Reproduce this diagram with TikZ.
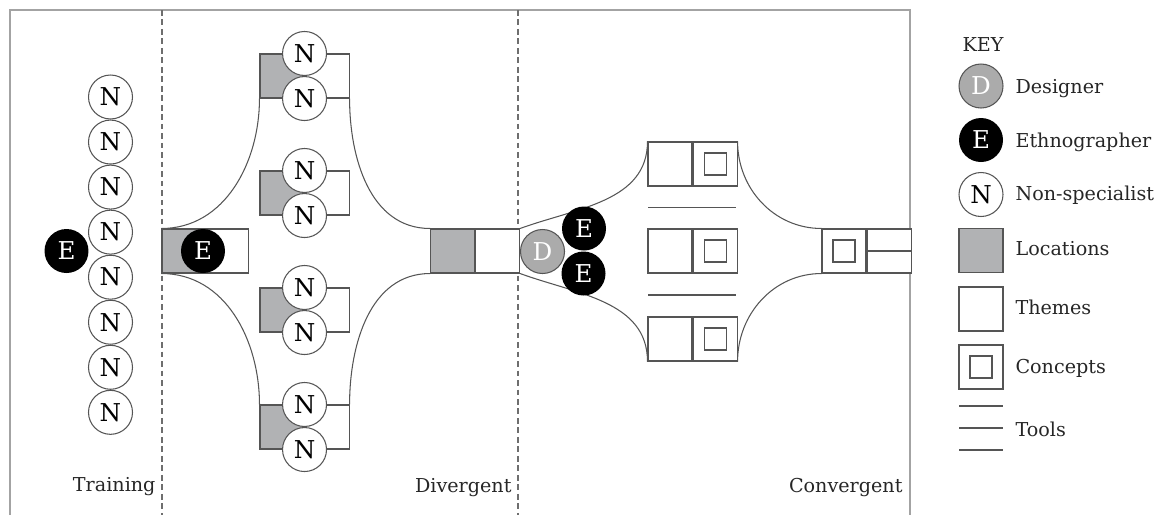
\documentclass[tikz,border=0pt]{standalone}
\usepackage{fontspec}
\setmainfont{DejaVu Serif}
\usetikzlibrary{positioning}
\definecolor{edge}{HTML}{555555}
\definecolor{frame}{HTML}{A3A3A3}
\definecolor{locgray}{HTML}{B1B2B4}
\definecolor{desgray}{HTML}{ABABAB}

\begin{document}
\begin{tikzpicture}[
  x=0.02cm,y=-0.02cm,
  line width=0.6pt,
  person/.style={circle,minimum size=0.88cm,inner sep=0pt,
                 font=\fontsize{14}{14}\selectfont},
  nsp/.style={person,draw=edge,fill=white,text=black},
  eth/.style={person,fill=black,text=white},
  des/.style={person,draw=edge,fill=desgray,text=white},
  loc/.style={draw=edge,fill=locgray,minimum size=0.88cm,inner sep=0pt},
  thm/.style={draw=edge,fill=white,minimum size=0.88cm,inner sep=0pt},
  cpt/.style={thm,path picture={
      \draw[edge] ([shift={(-0.22cm,-0.22cm)}]path picture bounding box.center)
        rectangle ([shift={(0.22cm,0.22cm)}]path picture bounding box.center);}},
  flow/.style={draw=edge},
  tool/.style={draw=edge},
  phase/.style={draw=edge!85,dash pattern=on 3.2pt off 2.2pt},
  lbl/.style={font=\fontsize{10.9}{13}\selectfont,inner sep=0pt,text=black!85},
]
  \useasboundingbox (0,0) rectangle (1168,515);

  % frame and phase borders
  \draw[frame] (10,515) -- (10,10) -- (910,10) -- (910,515);
  \draw[phase] (162,10) -- (162,515);
  \draw[phase] (518,10) -- (518,515);

  % training
  \node[nsp] (tn1) at (110.5,97) {N};
  \foreach \i [count=\j] in {2,...,8}
    \node[nsp,below=0pt of tn\j] (tn\i) {N};
  \node[eth] (te) at (66.5,251) {E};

  % divergent
  \node[loc] (dloc) at (184,251) {};
  \node[thm,right=0pt of dloc,minimum width=0.82cm] (dthm) {};

  \foreach \k/\y in {1/76,2/193,3/310,4/427} {
    \node[loc] (loc\k) at (282,\y) {};
    \node[thm,right=0pt of loc\k] (thm\k) {};
  }

  \node[loc] (mloc) at (452.5,251) {};
  \node[thm,right=0pt of mloc] (mthm) {};

  \draw[flow] (dloc.north west) to[out=0,in=-90] (loc1.south west);
  \draw[flow] (dloc.south west) to[out=0,in=90] (loc4.north west);
  \draw[flow] (thm1.south east) to[out=-90,in=180] (mloc.north west);
  \draw[flow] (thm4.north east) to[out=90,in=180] (mloc.south west);

  \node[eth] (de) at (203,251) {E};
  \foreach \k in {1,...,4} {
    \node[nsp] (na\k) at (loc\k.north east) {N};
    \node[nsp] (nb\k) at (loc\k.south east) {N};
  }

  % convergent
  \foreach \k/\y in {1/164,2/251,3/339} {
    \node[thm] (cthm\k) at (670,\y) {};
    \node[cpt,right=0pt of cthm\k] (ccpt\k) {};
  }
  \draw[tool] (648,207.5) -- (736,207.5);
  \draw[tool] (648,295) -- (736,295);

  \node[cpt] (fcpt) at (844,251) {};
  \node[thm,right=0pt of fcpt] (fthm) {};
  \draw[tool] (fthm.west) -- (fthm.east);

  \draw[flow] (mthm.north east) to[out=20,in=-90] (cthm1.north west);
  \draw[flow] (mthm.south east) to[out=-20,in=90] (cthm3.south west);
  \draw[flow] (ccpt1.north east) to[out=-90,in=180] (fcpt.north west);
  \draw[flow] (ccpt3.south east) to[out=90,in=180] (fcpt.south west);

  \node[des] (cd) at (542.5,251.5) {D};
  \node[eth] (ce1) at (584,228.5) {E};
  \node[eth] (ce2) at (583.5,273.5) {E};

  % phase names
  \node[lbl,anchor=base east] (ltrain) at (156,491) {Training};
  \node[lbl,anchor=base east] (ldiv) at (512,492) {Divergent};
  \node[lbl,anchor=base east] (lconv) at (903,492) {Convergent};

  % key
  \node[lbl,anchor=base west] (key) at (962,51) {KEY};
  \node[des] (kd) at (981,86) {D};
  \node[lbl,anchor=base west] (kdl) at (1015,93) {Designer};
  \node[eth] (ke) at (981,140) {E};
  \node[lbl,anchor=base west] (kel) at (1015,147) {Ethnographer};
  \node[nsp] (kn) at (981,194.5) {N};
  \node[lbl,anchor=base west] (knl) at (1015,200) {Non-specialist};
  \node[loc] (kloc) at (981,250.5) {};
  \node[lbl,anchor=base west] (klocl) at (1015,255.5) {Locations};
  \node[thm] (kthm) at (981,309) {};
  \node[lbl,anchor=base west] (kthml) at (1015,314) {Themes};
  \node[cpt] (kcpt) at (981,367) {};
  \node[lbl,anchor=base west] (kcptl) at (1015,373) {Concepts};
  \draw[tool] (959,406) -- (1003,406);
  \draw[tool] (959,428) -- (1003,428);
  \draw[tool] (959,450) -- (1003,450);
  \node[lbl,anchor=base west] (ktool) at (1015,436) {Tools};
\end{tikzpicture}
\end{document}
